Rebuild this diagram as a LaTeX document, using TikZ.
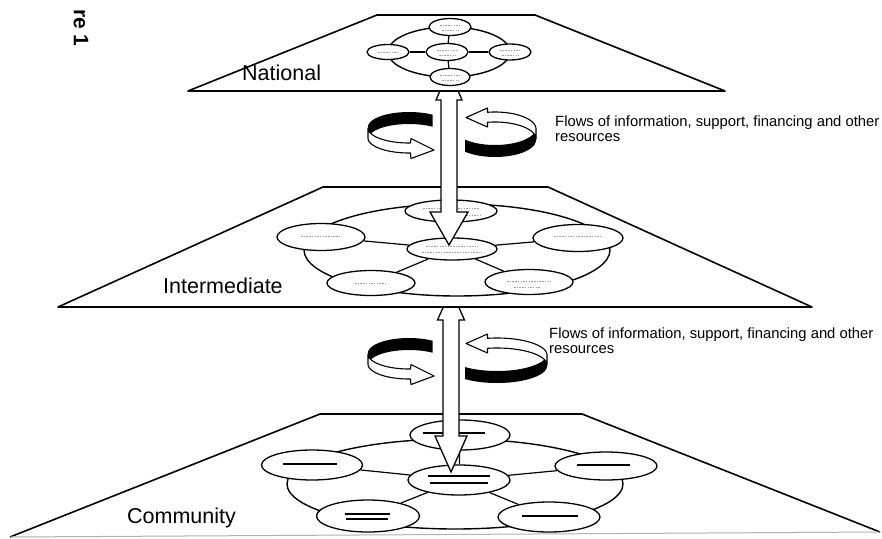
\documentclass[tikz,border=0pt]{standalone}
\usepackage{fontspec}
\setmainfont{Liberation Sans}
\usetikzlibrary{shapes.geometric,calc}

\tikzset{
  plane/.style={draw=black, line width=1.6pt, line join=round},
  unit/.style={ellipse, draw=black, fill=white, line width=1.3pt, inner sep=0pt},
  link/.style={draw=black, line width=1.2pt},
  loopring/.style={draw=black, line width=1.4pt},
  flowshaft/.style={fill=white, draw=black, line width=1.3pt, line join=miter},
  turnlight/.style={fill=white, draw=black, line width=1.1pt, line join=round},
  level/.style={anchor=base west, inner sep=0pt, font=\fontsize{21.5}{24}\selectfont},
  flowtext/.style={anchor=base west, inner sep=0pt, align=left,
    font=\fontsize{14.8}{14.5}\selectfont},
  scrib/.style={draw=gray!75, line width=1pt, dash pattern=on 1.5pt off 1.2pt},
  bar/.style={draw=black, line width=2pt},
}

\begin{document}
\begin{tikzpicture}[x=1pt,y=-1pt]
\useasboundingbox (0,0) rectangle (882,538);
\fill[white] (0,0) rectangle (882,538);

% ---------- community level ----------
\coordinate (cA) at (320,414);
\coordinate (cB) at (582,414);
\coordinate (cC) at (880,532);
\coordinate (cD) at (10,537);
\fill[white] (cA) -- (cB) -- (cC) -- (cD) -- cycle;
\draw[plane] (cD) -- (cA) -- (cB) -- (cC);
\draw[gray!60, line width=1pt] (cD) -- (cC);

\draw[loopring] (455,484) ellipse [x radius=168pt, y radius=45pt];
\node[unit, minimum width=100pt, minimum height=30pt] (c-top)   at (460,435) {};
\node[unit, minimum width=102pt, minimum height=30pt] (c-ctr)   at (459,480) {};
\node[unit, minimum width=101pt, minimum height=30pt] (c-left)  at (312,465) {};
\node[unit, minimum width=102pt, minimum height=28pt] (c-right) at (606,466) {};
\node[unit, minimum width=103pt, minimum height=32pt] (c-bl)    at (368,516) {};
\node[unit, minimum width=102pt, minimum height=30pt] (c-br)    at (549,517) {};
\foreach \n in {c-top,c-left,c-right,c-bl,c-br}
  \draw[link] (c-ctr) -- (\n);
\draw[bar] ($(c-top)+(-37,-2)$) -- ($(c-top)+(25,-2)$);
\draw[bar] ($(c-ctr)+(-31,-4)$) -- ($(c-ctr)+(31,-4)$);
\draw[bar] ($(c-ctr)+(-29,3)$) -- ($(c-ctr)+(29,3)$);
\draw[bar] ($(c-left)+(-29,-1)$) -- ($(c-left)+(25,-1)$);
\draw[bar] ($(c-right)+(-29,-1)$) -- ($(c-right)+(24,-1)$);
\draw[bar] ($(c-bl)+(-23,-2)$) -- ($(c-bl)+(22,-2)$);
\draw[bar, line width=1.4pt] ($(c-bl)+(-22,3)$) -- ($(c-bl)+(20,3)$);
\draw[bar] ($(c-br)+(-27,-1)$) -- ($(c-br)+(29,-1)$);

% double arrow between intermediate and community
\draw[flowshaft] (451,290) -- (464.5,320) -- (459,320) -- (459,436) -- (467,436)
  -- (451,472) -- (435,436) -- (443,436) -- (443,320) -- (437.5,320) -- cycle;

% ---------- intermediate level ----------
\coordinate (iA) at (323,187);
\coordinate (iB) at (548,187);
\coordinate (iC) at (812,307);
\coordinate (iD) at (58,307);
\filldraw[plane, fill=white] (iA) -- (iB) -- (iC) -- (iD) -- cycle;

\draw[loopring] (457,250) ellipse [x radius=153pt, y radius=46pt];
\node[unit, minimum width=92pt, minimum height=22pt] (i-top)   at (451,211) {};
\node[unit, minimum width=90pt, minimum height=22pt] (i-ctr)   at (452,249) {};
\node[unit, minimum width=90pt, minimum height=27pt] (i-right) at (578,238) {};
\node[unit, minimum width=88pt, minimum height=25pt] (i-br)    at (529,282) {};
\node[unit, minimum width=88pt, minimum height=25pt] (i-bl)    at (371,283) {};
\node[unit, minimum width=88pt, minimum height=27pt] (i-left)  at (321,237) {};
\foreach \n in {i-top,i-left,i-right,i-bl,i-br}
  \draw[link] (i-ctr) -- (\n);
\draw[scrib] ($(i-top)+(-28,-3)$) -- ($(i-top)+(28,-3)$);
\draw[scrib] ($(i-top)+(-20,4)$) -- ($(i-top)+(30,4)$);
\draw[scrib] ($(i-ctr)+(-26,-3)$) -- ($(i-ctr)+(26,-3)$);
\draw[scrib] ($(i-ctr)+(-30,3)$) -- ($(i-ctr)+(30,3)$);
\draw[scrib] ($(i-right)+(-24,-2)$) -- ($(i-right)+(24,-2)$);
\draw[scrib] ($(i-br)+(-22,-1)$) -- ($(i-br)+(22,-1)$);
\draw[scrib] ($(i-br)+(-15,5)$) -- ($(i-br)+(12,5)$);
\draw[scrib] ($(i-bl)+(-16,0)$) -- ($(i-bl)+(14,0)$);
\draw[scrib] ($(i-left)+(-20,-1)$) -- ($(i-left)+(18,-1)$);

% double arrow between national and intermediate
\draw[flowshaft] (449,70) -- (462,100) -- (457,100) -- (457,212) -- (468,212)
  -- (449,245) -- (430,212) -- (441,212) -- (441,100) -- (436,100) -- cycle;

% ---------- national level ----------
\coordinate (nA) at (377,15);
\coordinate (nB) at (535,15);
\coordinate (nC) at (725,91);
\coordinate (nD) at (188,91);
\filldraw[plane, fill=white] (nA) -- (nB) -- (nC) -- (nD) -- cycle;

\draw[loopring] (449,52) ellipse [x radius=61pt, y radius=25pt];
\node[unit, minimum width=42pt, minimum height=17pt] (n-top)   at (450,27) {};
\node[unit, minimum width=42pt, minimum height=15pt] (n-left)  at (388,52) {};
\node[unit, minimum width=42pt, minimum height=17pt] (n-ctr)   at (447,52) {};
\node[unit, minimum width=42pt, minimum height=16pt] (n-right) at (510,52) {};
\node[unit, minimum width=40pt, minimum height=17pt] (n-bot)   at (450,77) {};
\foreach \n in {n-top,n-left,n-right,n-bot}
  \draw[link] (n-ctr) -- (\n);
\foreach \n in {n-top,n-ctr,n-right,n-bot}{
  \draw[scrib, line width=0.8pt] ($(\n)+(-10,-2)$) -- ($(\n)+(10,-2)$);
  \draw[scrib, line width=0.8pt] ($(\n)+(-8,3)$) -- ($(\n)+(9,3)$);
}
\draw[scrib, line width=0.8pt] ($(n-left)+(-10,0)$) -- ($(n-left)+(10,0)$);

% ---------- turning flow arrows ----------
% #1 vertical offset, #2 centre of the right turn, #3 its horizontal radius
\foreach \dy/\rc/\rr in {0/495/41, 226/497/50}{
  \begin{scope}[shift={(0,\dy)}]
    % left turn: dark inner back, light front with head pointing right
    \fill[black] plot[domain=55:180, samples=30] ({409+41*cos(\x)},{133-15*sin(\x)-6})
      -- plot[domain=180:55, samples=30] ({409+41*cos(\x)},{133-15*sin(\x)+6}) -- cycle;
    \draw[turnlight] plot[domain=180:272, samples=30] ({409+41*cos(\x)},{133-15*sin(\x)-5})
      -- (411,138.5) -- (434,150) -- (411,158.5)
      -- plot[domain=272:180, samples=30] ({409+41*cos(\x)},{133-15*sin(\x)+5}) -- cycle;
    % right turn: light top with head pointing left, dark back below
    \pgfmathsetmacro{\aend}{-acos((465-\rc)/\rr)}
    \pgfmathsetmacro{\astart}{acos((487.5-\rc)/\rr)}
    \fill[black] plot[domain=0:\aend, samples=30] ({\rc+\rr*cos(\x)},{134-17*sin(\x)-6})
      -- plot[domain=\aend:0, samples=30] ({\rc+\rr*cos(\x)},{134-17*sin(\x)+6}) -- cycle;
    \draw[turnlight] plot[domain=\astart:0, samples=30] ({\rc+\rr*cos(\x)},{134-17*sin(\x)+5})
      -- plot[domain=0:\astart, samples=30] ({\rc+\rr*cos(\x)},{134-17*sin(\x)-5})
      -- (487.5,108) -- (466,117.5) -- (487.5,127) -- cycle;
  \end{scope}
}

% ---------- labels ----------
\node[level] (lab-nat) at (242,80) {National};
\node[level] (lab-int) at (163,293) {Intermediate};
\node[level] (lab-com) at (127,523) {Community};
\node[flowtext] (flow-up) at (555,141)
  {Flows of information, support, financing and other\\resources};
\node[flowtext] (flow-lo) at (549,353)
  {Flows of information, support, financing and other\\resources};
\node[rotate=-90, inner sep=0pt, font=\bfseries\fontsize{21}{21}\selectfont] (fig) at (81,28) {re 1};
\end{tikzpicture}
\end{document}
